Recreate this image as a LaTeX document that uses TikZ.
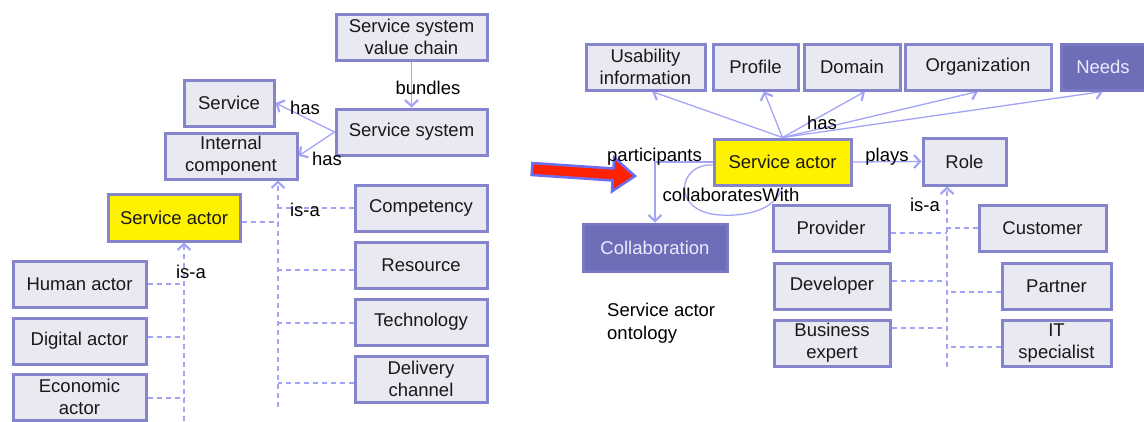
\documentclass[tikz,border=0pt]{standalone}
\usepackage{fontspec}
\setmainfont{Liberation Sans}
\usetikzlibrary{arrows.meta,calc}
\definecolor{boxfill}{HTML}{E9E9F1}
\definecolor{boxdraw}{HTML}{8585CC}
\definecolor{linec}{HTML}{A4A4F6}
\definecolor{darkfill}{HTML}{6E6EB8}
\definecolor{darkdraw}{HTML}{7878C4}
\definecolor{redarrow}{HTML}{FF2200}
\definecolor{bluearrow}{HTML}{6E6EF2}
\pgfdeclarelayer{bg}
\pgfsetlayers{bg,main}
\begin{document}
\begin{tikzpicture}[x=1pt,y=-1pt,
  font=\fontsize{18.5}{22}\selectfont,
  box/.style={draw=boxdraw, fill=boxfill, line width=3pt, align=center, inner sep=0pt, text=black!90},
  ybox/.style={box, fill=yellow},
  dbox/.style={draw=darkdraw, fill=darkfill, line width=3pt, align=center, inner sep=0pt, text=white!92!blue},
  rel/.style={draw=linec, line width=1.3pt, -{Straight Barb[length=6pt,width=13pt,line width=2.2pt]}},
  relplain/.style={draw=linec, line width=1.3pt},
  isa/.style={draw=linec, line width=1.3pt, dash pattern=on 5pt off 4pt},
  isaarrow/.style={isa, -{Straight Barb[length=6pt,width=13pt,line width=2.2pt]}},
  lbl/.style={inner sep=0pt, text=black}
]
\useasboundingbox (0,0) rectangle (1144,421);

% ---------- left diagram ----------
\node[box, minimum width=151, minimum height=46] (svc) at (411.5,37) {Service system\\value chain};
\node[box, minimum width=90, minimum height=46] (service) at (229,103) {Service};
\node[box, minimum width=151, minimum height=46] (ss) at (411.5,132) {Service system};
\node[box, minimum width=132, minimum height=46] (ic) at (231,156) {Internal\\component};
\node[ybox, minimum width=132, minimum height=47] (sa) at (174,217.5) {Service actor};
\node[box, minimum width=132, minimum height=46] (comp) at (421,208) {Competency};
\node[box, minimum width=132, minimum height=46] (res) at (421,265) {Resource};
\node[box, minimum width=132, minimum height=46] (tech) at (421,322) {Technology};
\node[box, minimum width=132, minimum height=46] (deliv) at (421,379) {Delivery\\channel};
\node[box, minimum width=133, minimum height=46] (human) at (79.5,284) {Human actor};
\node[box, minimum width=133, minimum height=46] (digital) at (79.5,341) {Digital actor};
\node[box, minimum width=133, minimum height=46] (econ) at (79.5,397) {Economic\\actor};

\node[lbl] (lbundles) at (428,88) {bundles};
\node[lbl] (lhas1) at (305,108) {has};
\node[lbl] (lhas2) at (327,159) {has};
\node[lbl] (lisa1) at (305,210) {is-a};
\node[lbl] (lisa2) at (191,272) {is-a};

\coordinate (isa1) at (278,407);
\coordinate (isa2) at (184,421);

\begin{pgfonlayer}{bg}
\draw[rel] (svc.south) -- (ss.north);
\draw[rel] (ss.west) -- (service.east);
\draw[rel] (ss.west) -- (ic.east);
\draw[isaarrow] (isa1) -- (isa1 |- ic.south);
\path ([yshift=-4.5pt]sa.east) coordinate (b1)
      (comp.west) coordinate (b2)
      ([yshift=-5pt]res.west) coordinate (b3)
      ([yshift=-1pt]tech.west) coordinate (b4)
      ([yshift=-4pt]deliv.west) coordinate (b5);
\foreach \b in {b1,b2,b3,b4,b5} \draw[isa] (\b) -- (\b -| isa1);
\draw[isaarrow] (isa2) -- (isa2 |- sa.south);
\path (human.east) coordinate (c1)
      ([yshift=4pt]digital.east) coordinate (c2)
      ([yshift=-1pt]econ.east) coordinate (c3);
\foreach \c in {c1,c2,c3} \draw[isa] (\c) -- (\c -| isa2);
\end{pgfonlayer}

% ---------- red arrow ----------
\filldraw[fill=redarrow, draw=bluearrow, line width=2.5pt, line join=miter]
  (532.4,163) -- (613.5,168.5) -- (614.2,157.5) -- (635,176) -- (611.9,191.5) -- (612.6,180.5) -- (531.6,175) -- cycle;

% ---------- right diagram ----------
\node[box, minimum width=119, minimum height=46] (usab) at (645.5,67) {Usability\\information};
\node[box, minimum width=85, minimum height=46] (profile) at (755.5,67) {Profile};
\node[box, minimum width=96, minimum height=46] (domain) at (852,67) {Domain};
\node[box, minimum width=146, minimum height=46] (org) at (978,67) {Organization};
\node[dbox, minimum width=84, minimum height=46] (needs) at (1103,67) {Needs};
\node[ybox, minimum width=137, minimum height=46] (rsa) at (782.5,162) {Service actor};
\node[box, minimum width=83, minimum height=47] (role) at (964.5,161.5) {Role};
\node[dbox, minimum width=144, minimum height=47] (collab) at (655,247.5) {Collaboration};
\node[box, minimum width=116, minimum height=46] (provider) at (831,228) {Provider};
\node[box, minimum width=127, minimum height=46] (customer) at (1042.5,228) {Customer};
\node[box, minimum width=116, minimum height=46] (developer) at (832,286) {Developer};
\node[box, minimum width=109, minimum height=46] (partner) at (1056.5,286) {Partner};
\node[box, minimum width=116, minimum height=46] (business) at (832,343) {Business\\expert};
\node[box, minimum width=109, minimum height=46] (itspec) at (1056.5,343) {IT\\specialist};

\node[lbl] (lhas3) at (822,123) {has};
\node[lbl] (lplays) at (887,157) {plays};
\node[lbl] (lpart) at (654.5,157) {participants};
\node[lbl] (lcollab) at (731,195) {collaboratesWith};
\node[lbl] (lisa3) at (925,205) {is-a};
\node[lbl, anchor=west, align=left, font=\fontsize{18.5}{23}\selectfont] (onto) at (607,323.5) {Service actor\\ontology};

\coordinate (isa3) at (947,367);

\begin{pgfonlayer}{bg}
\draw[rel] (rsa.north) -- ([xshift=6.5pt]usab.south);
\draw[rel] (rsa.north) -- ([xshift=8.5pt]profile.south);
\draw[rel] (rsa.north) -- ([xshift=13pt]domain.south);
\draw[rel] (rsa.north) -- (org.south);
\draw[rel] (rsa.north) -- (needs.south);
\draw[rel] (rsa.east) -- (role.west);
\draw[rel] (rsa.west) -| (collab.north);
\draw[relplain] ([yshift=-3pt]rsa.west) .. controls (678,163) and (670,212) .. (720,215)
  .. controls (755,217) and (778,205) .. (rsa.south);
\draw[isaarrow] (isa3) -- (isa3 |- role.south);
\path ([yshift=-5pt]provider.east) coordinate (d1)
      ([yshift=5pt]developer.east) coordinate (d2)
      ([yshift=15pt]business.east) coordinate (d3)
      (customer.west) coordinate (e1)
      ([yshift=-6pt]partner.west) coordinate (e2)
      ([yshift=-4pt]itspec.west) coordinate (e3);
\foreach \d in {d1,d2,d3,e1,e2,e3} \draw[isa] (\d) -- (\d -| isa3);
\end{pgfonlayer}
\end{tikzpicture}
\end{document}
